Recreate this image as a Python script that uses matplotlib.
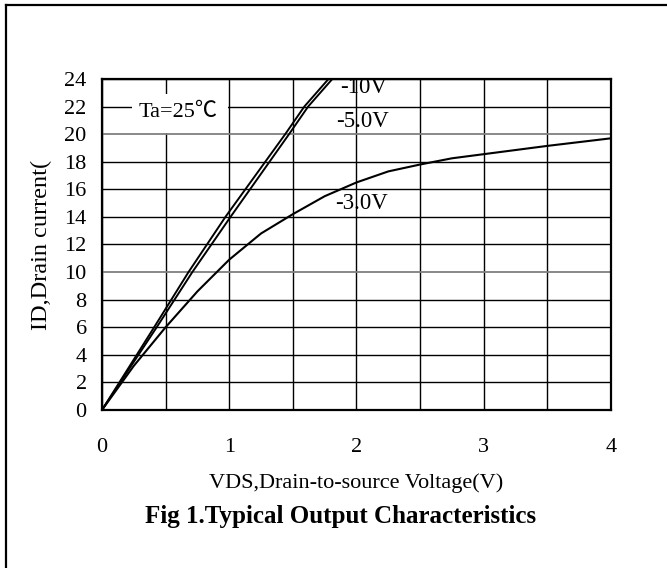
import matplotlib
matplotlib.use("Agg")
import matplotlib.pyplot as plt
from matplotlib.patches import Rectangle
from matplotlib.lines import Line2D

# ---- data ----
vds_10v = [0, 0.41, 0.68, 0.97, 1.44, 1.59, 1.78]
id_10v = [0, 6.0, 10.0, 14.0, 20.0, 22.0, 24.0]

vds_5v = [0, 0.43, 0.71, 1.01, 1.47, 1.62, 1.81]
id_5v = [0, 6.0, 10.0, 14.0, 20.0, 22.0, 24.0]

vds_3v = [0, 0.25, 0.5, 0.75, 1.0, 1.25, 1.5, 1.75, 2.0, 2.25, 2.5, 2.75, 3.0, 3.5, 4.0]
id_3v = [0, 3.2, 6.0, 8.6, 10.9, 12.8, 14.2, 15.5, 16.5, 17.3, 17.8, 18.25, 18.55, 19.15, 19.7]

x_ticks = [0, 1, 2, 3, 4]
y_ticks = [0, 2, 4, 6, 8, 10, 12, 14, 16, 18, 20, 22, 24]
x_minor = [0.5, 1.5, 2.5, 3.5]

curve_labels = ["-10V", "-5.0V", "-3.0V"]
label_pos = [(1.87, 23.35), (1.84, 20.95), (1.83, 14.95)]

serif = ["Liberation Serif", "DejaVu Serif"]
plt.rcParams["font.family"] = serif

fig = plt.figure(figsize=(6.67, 5.68), dpi=100)
ax = fig.add_axes([0.1529, 0.2782, 0.7631, 0.5827])

ax.plot(vds_10v, id_10v, color="black", lw=1.4)
ax.plot(vds_5v, id_5v, color="black", lw=1.4)
ax.plot(vds_3v, id_3v, color="black", lw=1.5)

ax.set_xlim(0, 4)
ax.set_ylim(0, 24)
ax.set_xticks(x_ticks)
ax.set_xticks(x_minor, minor=True)
ax.set_yticks(y_ticks)
ax.tick_params(axis="both", which="both", length=0, labelsize=16)
ax.tick_params(axis="y", pad=11)
ax.tick_params(axis="x", pad=20.5)
ax.grid(True, which="both", color="black", lw=1.0)
for i, gl in enumerate(ax.yaxis.get_gridlines()):
    if y_ticks[i] in (10, 20):
        gl.set_color("#7f7f7f")
        gl.set_linewidth(1.3)
ax.set_axisbelow(True)
for sp in ax.spines.values():
    sp.set_linewidth(1.6)

for txt, (xx, yy) in zip(curve_labels, label_pos):
    ax.text(xx, yy, txt, fontsize=16.5, ha="left", va="center", clip_on=True)

# Ta box
ax.add_patch(Rectangle((0.235, 20.05), 0.755, 2.85, facecolor="white",
                       edgecolor="none", zorder=2.5))
ax.text(0.60, 21.55, "Ta=25℃", fontsize=16, ha="center", va="center",
        family=["Liberation Serif", "Noto Sans CJK SC"], zorder=3)

ax.set_ylabel("ID,Drain current(", fontsize=17.5, va="center")
ax.yaxis.set_label_coords(-0.118, 0.5)

fig.text(0.534, 1 - 483 / 568, "VDS,Drain-to-source Voltage(V)", fontsize=16,
         ha="center", va="center")
fig.text(0.510, 1 - 517 / 568, "Fig 1.Typical Output Characteristics", fontsize=18,
         fontweight="bold", ha="center", va="center")

# partial frame (left and top)
fig.add_artist(Line2D([6 / 667, 6 / 667], [0, 1 - 5 / 568], color="black", lw=1.6,
                      transform=fig.transFigure))
fig.add_artist(Line2D([6 / 667, 1], [1 - 5 / 568, 1 - 5 / 568], color="black", lw=1.6,
                      transform=fig.transFigure))

fig.savefig("out.png", dpi=100)
